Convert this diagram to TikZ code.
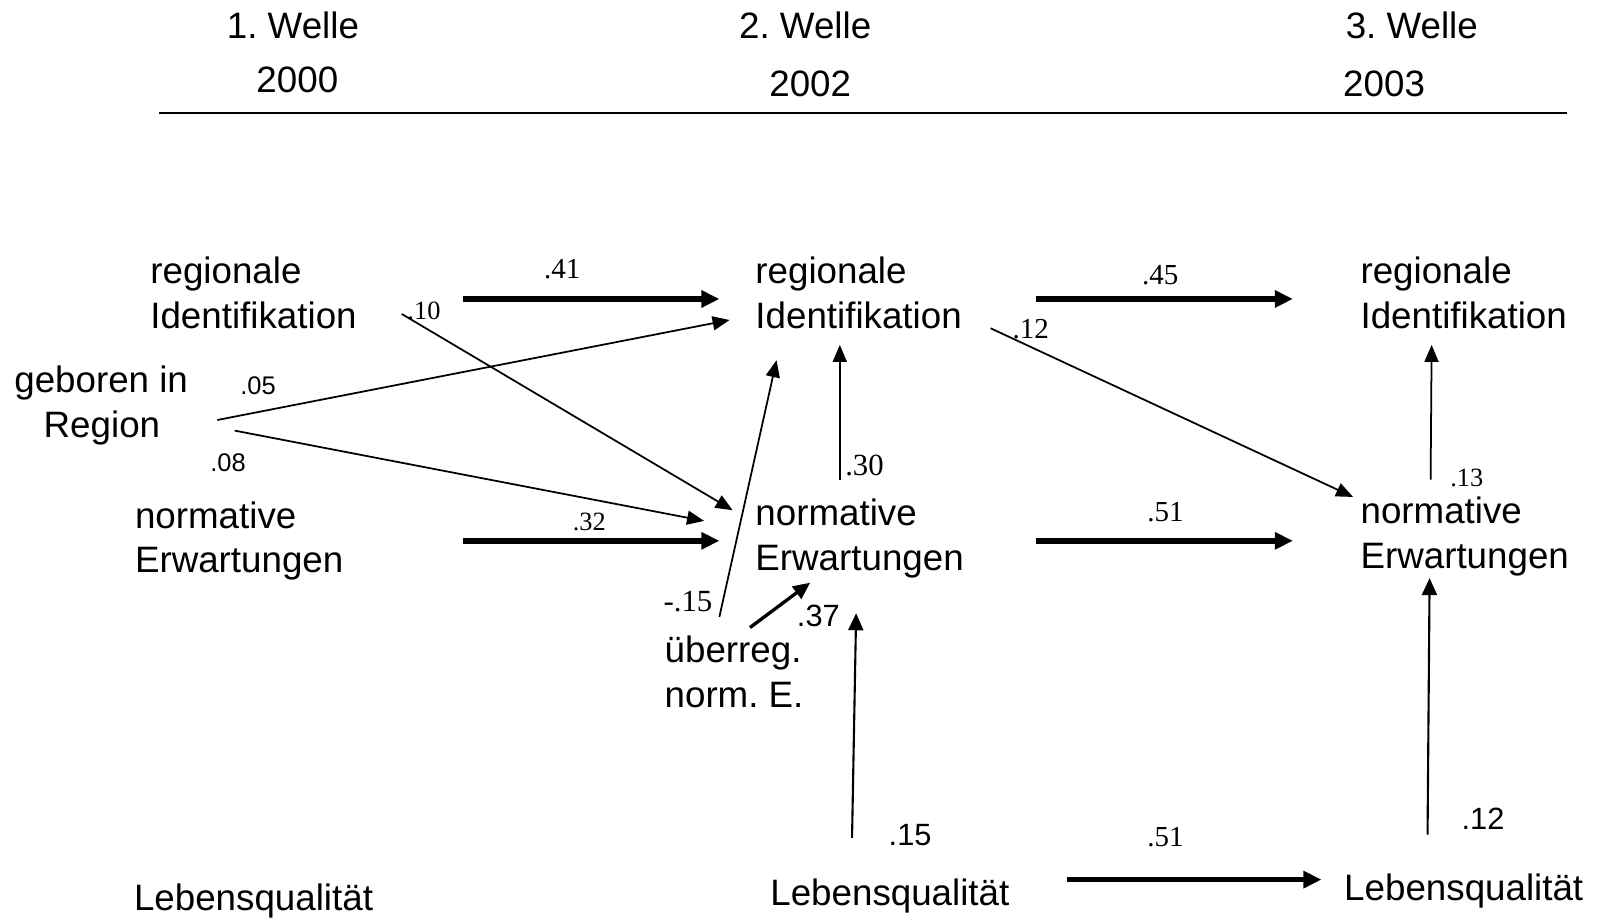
\documentclass[tikz,border=0pt]{standalone}
\usepackage{fontspec}
\setmainfont{Liberation Sans}
\newfontfamily\lblserif{Liberation Serif}
\usetikzlibrary{arrows.meta}
\frenchspacing
\begin{document}
\begin{tikzpicture}[x=0.020408cm,y=-0.020408cm,
  txt/.style={anchor=base west,inner sep=0pt,font=\fontsize{20.9}{25}\selectfont},
  slab/.style={anchor=base west,inner sep=0pt,font=\lblserif\fontsize{16.5}{18}\selectfont},
  slabsmall/.style={anchor=base west,inner sep=0pt,font=\lblserif\fontsize{15}{17}\selectfont},
  slabbig/.style={anchor=base west,inner sep=0pt,font=\lblserif\fontsize{17.5}{19}\selectfont},
  nlab/.style={anchor=base west,inner sep=0pt,font=\fontsize{17.5}{19}\selectfont},
  nlabsmall/.style={anchor=base west,inner sep=0pt,font=\fontsize{14.5}{16}\selectfont},
  thickarr/.style={line width=3.2pt,-{Triangle[length=0.36cm,width=0.33cm]}},
  medarr/.style={line width=1.9pt,-{Triangle[length=0.34cm,width=0.3cm]}},
  thinarr/.style={line width=1pt,-{Triangle[length=0.34cm,width=0.28cm]}},
  vertarr/.style={line width=1.2pt,-{Triangle[length=0.34cm,width=0.3cm]}},
]
\useasboundingbox (0,0) rectangle (1568,900);

% header
\node[txt] (h1) at (222,37.5) {1. Welle};
\node[txt] (y1) at (251,91) {2000};
\node[txt] (h2) at (724,37.5) {2. Welle};
\node[txt] (y2) at (753.6,95) {2002};
\node[txt] (h3) at (1318.5,37.5) {3. Welle};
\node[txt] (y3) at (1316,95) {2003};
\coordinate (lineL) at (155.8,110.7);
\coordinate (lineR) at (1535.4,110.7);
\draw[line width=1.3pt] (lineL) -- (lineR);

% wave 1
\node[txt] (ri1a) at (147,277.5) {regionale};
\node[txt] (ri1b) at (147,322) {Identifikation};
\node[txt] (gb1a) at (13.7,385) {geboren in};
\node[txt] (gb1b) at (42.5,428.5) {Region};
\node[txt] (ne1a) at (132,517.5) {normative};
\node[txt] (ne1b) at (132,561.5) {Erwartungen};
\node[txt] (lq1) at (131,892) {Lebensqualität};

% wave 2
\node[txt] (ri2a) at (740,277.5) {regionale};
\node[txt] (ri2b) at (740,322) {Identifikation};
\node[txt] (ne2a) at (740,515) {normative};
\node[txt] (ne2b) at (740,559) {Erwartungen};
\node[txt] (ue2a) at (651,649) {überreg.};
\node[txt] (ue2b) at (651,693) {norm. E.};
\node[txt] (lq2) at (754.6,887) {Lebensqualität};

% wave 3
\node[txt] (ri3a) at (1333,277.5) {regionale};
\node[txt] (ri3b) at (1333,321.5) {Identifikation};
\node[txt] (ne3a) at (1333,513) {normative};
\node[txt] (ne3b) at (1333,557) {Erwartungen};
\node[txt] (lq3) at (1317,882) {Lebensqualität};

% arrow end points
\coordinate (a41s) at (454,293);   \coordinate (a41e) at (705,293);
\coordinate (a32s) at (454,530);   \coordinate (a32e) at (705,530);
\coordinate (a45s) at (1015,293);  \coordinate (a45e) at (1267,293);
\coordinate (a51s) at (1015,530);  \coordinate (a51e) at (1267,530);
\coordinate (b51s) at (1046,862);  \coordinate (b51e) at (1295,862);
\coordinate (a37s) at (735,615);   \coordinate (a37e) at (794,571);
\coordinate (a10s) at (393.7,307.7); \coordinate (a10e) at (718,500);
\coordinate (a05s) at (213,411.6); \coordinate (a05e) at (715,313.6);
\coordinate (a08s) at (230,422);   \coordinate (a08e) at (690,510.5);
\coordinate (a15ns) at (705,604.5); \coordinate (a15ne) at (761,353);
\coordinate (a30s) at (823,470.4); \coordinate (a30e) at (823,338);
\coordinate (a12ds) at (970.8,321.7); \coordinate (a12de) at (1326,487);
\coordinate (a13s) at (1402,470);  \coordinate (a13e) at (1403,338);
\coordinate (a15s) at (835,821);   \coordinate (a15e) at (839,601);
\coordinate (a12vs) at (1399,818); \coordinate (a12ve) at (1401,566.5);

% thick arrows
\draw[thickarr] (a41s) -- (a41e);
\draw[thickarr] (a32s) -- (a32e);
\draw[thickarr] (a45s) -- (a45e);
\draw[thickarr] (a51s) -- (a51e);
\draw[thickarr] (b51s) -- (b51e);
\draw[medarr] (a37s) -- (a37e);

% thin arrows
\draw[thinarr] (a10s) -- (a10e);
\draw[thinarr] (a05s) -- (a05e);
\draw[thinarr] (a08s) -- (a08e);
\draw[thinarr] (a15ns) -- (a15ne);
\draw[thinarr] (a30s) -- (a30e);
\draw[thinarr] (a12ds) -- (a12de);
\draw[thinarr] (a13s) -- (a13e);
\draw[vertarr] (a15s) -- (a15e);
\draw[vertarr] (a12vs) -- (a12ve);

% labels
\node[slab] (l41) at (533,272.7) {.41};
\node[slabsmall] (l10) at (399,313) {.10};
\node[nlabsmall] (l05) at (235.2,387) {.05};
\node[nlabsmall] (l08) at (205.8,462.2) {.08};
\node[slabsmall] (l32) at (561,519.5) {.32};
\node[slabbig] (l15n) at (650,599.4) {-.15};
\node[nlab] (l37) at (780.7,614) {.37};
\node[slabbig] (l30) at (828,465.5) {.30};
\node[nlab] (l15) at (870.6,829) {.15};
\node[slab] (l12d) at (992,331.5) {.12};
\node[slab] (l45) at (1119,279) {.45};
\node[slabsmall] (l13) at (1421,477) {.13};
\node[slab] (l51) at (1124,511) {.51};
\node[slab] (l51b) at (1124,830) {.51};
\node[nlab] (l12v) at (1432,812.5) {.12};
\end{tikzpicture}
\end{document}
